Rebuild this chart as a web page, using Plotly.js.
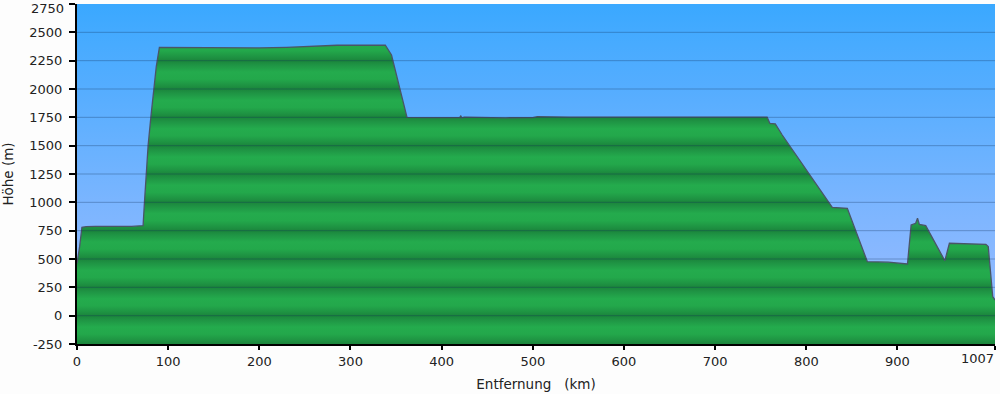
<!DOCTYPE html>
<html>
<head>
<meta charset="utf-8">
<script src="https://cdn.plot.ly/plotly-3.0.1.min.js"></script>
<style>html,body{margin:0;padding:0;background:#fdfdfd;}#chart{width:1000px;height:394px;}</style>
</head>
<body>
<div id="chart"></div>
<script>
// Route profile: distance (km) and elevation (m)
const distKm = [0, 2.9, 5.4, 10, 20, 30, 40, 50, 60, 70, 72.5, 74, 76, 78, 81, 84, 87, 90.4,
  110, 130, 150, 171.7, 200, 230, 252.2, 270, 285.2, 310, 338.2, 345, 362,
  380, 400, 420, 421, 422, 425, 440, 470, 500, 505, 540, 600, 650, 700, 740, 757,
  760, 766, 773.6, 801, 828.5, 845, 867, 890, 909, 911, 915, 920, 922, 924, 931, 952,
  957, 975, 997, 999.6, 1004.5, 1007];
const elevM = [462, 609, 780, 785, 788, 786, 790, 788, 787, 790, 795, 1000, 1250, 1500, 1750, 2000, 2200, 2368,
  2366, 2364, 2362, 2359, 2362, 2368, 2377, 2380, 2386, 2386, 2386, 2300, 1750,
  1748, 1745, 1748, 1765, 1745, 1752, 1748, 1746, 1748, 1756, 1752, 1752, 1753, 1753, 1752, 1752,
  1697, 1692, 1594, 1271, 956, 947, 476, 472, 462, 456, 800, 815, 859, 806, 794, 485,
  639, 635, 630, 609, 168, 138];

const xTickVals = [0, 100, 200, 300, 400, 500, 600, 700, 800, 900, 1007];
const xTickText = ['0', '100', '200', '300', '400', '500', '600', '700', '800', '900', '1007'];
const yTickVals = [-250, 0, 250, 500, 750, 1000, 1250, 1500, 1750, 2000, 2250, 2500, 2750];
const yTickText = ['-250', '0', '250', '500', '750', '1000', '1250', '1500', '1750', '2000', '2250', '2500', '2750'];
const yMin = -250, yMax = 2750, yStep = 250;
const xMax = 1007;

// Green banded colorscale repeating every grid step
const nBands = (yMax - yMin) / yStep;
const greenScale = [];
for (let i = 0; i < nBands; i++) {
  const b = i / nBands, w = 1 / nBands;
  greenScale.push([b, '#1b853c']);
  greenScale.push([b + w * 0.12, '#1e9242']);
  greenScale.push([b + w * 0.35, '#23a84b']);
  greenScale.push([b + w * 0.6, '#24ab4d']);
  greenScale.push([b + w * 0.85, '#1f9444']);
  greenScale.push([b + w * 0.999, '#1b853c']);
}
greenScale.push([1, '#1b853c']);

const skyScale = [
  [0, '#95bcff'], [0.25, '#8ab8ff'], [0.42, '#7ab5ff'], [0.6, '#66b1ff'],
  [0.75, '#55adff'], [0.88, '#48abff'], [1, '#3aa8ff']
];

const base = {x: [0, xMax], y: [yMin, yMin], mode: 'lines', line: {width: 0}, hoverinfo: 'skip', showlegend: false};
const terrain = {
  x: distKm, y: elevM, mode: 'lines', fill: 'tonexty',
  line: {color: '#4a5566', width: 1.3},
  fillgradient: {type: 'vertical', start: yMin, stop: yMax, colorscale: greenScale},
  showlegend: false
};
const sky = {
  x: [0, xMax], y: [yMax, yMax], mode: 'lines', fill: 'tonexty', line: {width: 0},
  fillgradient: {type: 'vertical', start: yMin, stop: yMax, colorscale: skyScale},
  hoverinfo: 'skip', showlegend: false
};

const shapes = [];
for (let v = yMin + yStep; v < yMax; v += yStep) {
  shapes.push({type: 'line', xref: 'paper', x0: 0, x1: 1, yref: 'y', y0: v, y1: v,
    line: {color: 'rgba(20,50,90,0.32)', width: 1}, layer: 'above'});
}

const font = {family: 'DejaVu Sans, Verdana, sans-serif', size: 13, color: '#222'};
const titleFont = {family: 'DejaVu Sans, Verdana, sans-serif', size: 13.5, color: '#222'};
// edge tick labels drawn as annotations so they are not clipped
const annotations = [
  {xref: 'x', yref: 'paper', x: xTickVals[xTickVals.length - 1], y: 0, xanchor: 'right', yanchor: 'top',
   yshift: -5, xshift: 1, text: xTickText[xTickText.length - 1], showarrow: false, font: font},
  {xref: 'paper', yref: 'y', x: 0, y: yTickVals[yTickVals.length - 1], xanchor: 'right', yanchor: 'middle',
   xshift: -11, yshift: -4, text: yTickText[yTickText.length - 1], showarrow: false, font: font}
];
const xTT = xTickText.slice(); xTT[xTT.length - 1] = '';
const yTT = yTickText.slice(); yTT[yTT.length - 1] = '';

const layout = {
  width: 1000, height: 394,
  margin: {l: 77, r: 5, t: 4, b: 50},
  paper_bgcolor: '#fdfdfd', plot_bgcolor: '#3aa8ff',
  font: font,
  xaxis: {
    range: [0, xMax], tickvals: xTickVals, ticktext: xTT,
    showgrid: false, zeroline: false, showline: true, linecolor: '#000', linewidth: 2,
    ticks: 'outside', ticklen: 4, tickcolor: '#000', tickwidth: 2,
    title: {text: 'Entfernung   (km)', font: titleFont, standoff: 12}
  },
  yaxis: {
    range: [yMin, yMax], tickvals: yTickVals, ticktext: yTT,
    showgrid: false, zeroline: false, showline: true, linecolor: '#000', linewidth: 2,
    ticks: 'outside', ticklen: 6, tickcolor: '#000', tickwidth: 2, ticklabelstandoff: 4,
    title: {text: 'Höhe (m)', font: titleFont, standoff: 16}
  },
  shapes: shapes,
  annotations: annotations
};
Plotly.newPlot('chart', [base, terrain, sky], layout, {displayModeBar: false, staticPlot: true});
</script>
</body>
</html>
